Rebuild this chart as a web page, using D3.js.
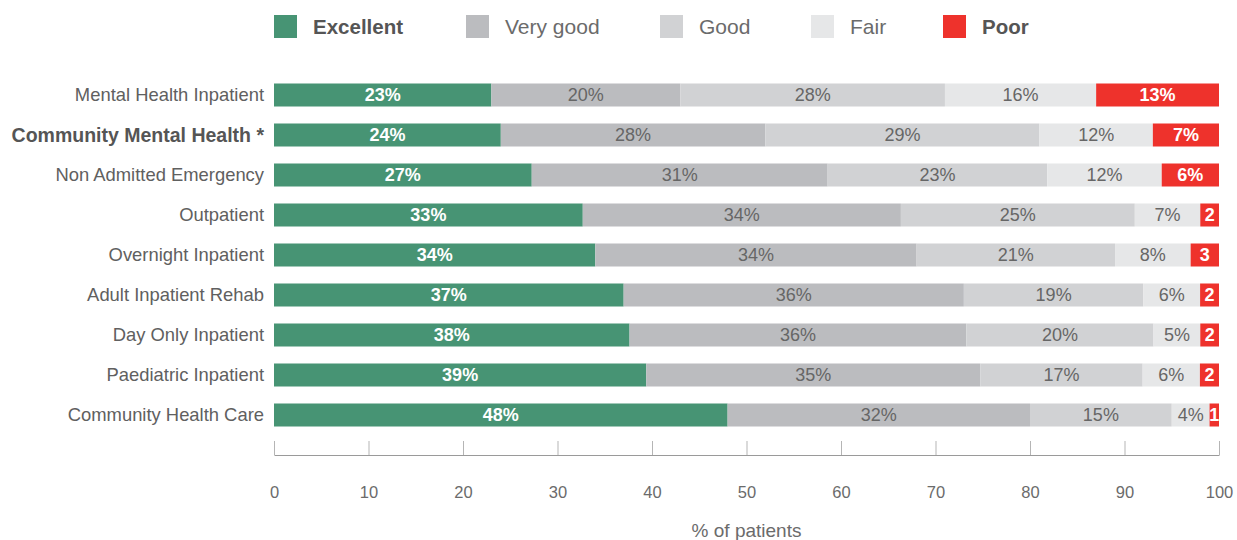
<!DOCTYPE html>
<html>
<head>
<meta charset="utf-8">
<script src="https://cdn.jsdelivr.net/npm/d3@7"></script>
<style>
  html, body { margin: 0; padding: 0; background: #ffffff; }
  svg { display: block; font-family: "Liberation Sans", Arial, sans-serif; }
</style>
</head>
<body>
<svg id="chart" width="1237" height="540"></svg>
<script>
// Patient ratings of overall care, % of patients per setting
const categories = [
  "Mental Health Inpatient",
  "Community Mental Health *",
  "Non Admitted Emergency",
  "Outpatient",
  "Overnight Inpatient",
  "Adult Inpatient Rehab",
  "Day Only Inpatient",
  "Paediatric Inpatient",
  "Community Health Care"
];
const highlighted = ["Community Mental Health *"];

const ratings = ["Excellent", "Very good", "Good", "Fair", "Poor"];
const excellent = [23, 24, 27, 33, 34, 37, 38, 39, 48];
const veryGood  = [20, 28, 31, 34, 34, 36, 36, 35, 32];
const good      = [28, 29, 23, 25, 21, 19, 20, 17, 15];
const fair      = [16, 12, 12,  7,  8,  6,  5,  6,  4];
const poor      = [13,  7,  6,  2,  3,  2,  2,  2,  1];
const xTicks = [0, 10, 20, 30, 40, 50, 60, 70, 80, 90, 100];
const axisTitle = "% of patients";

const colors = ["#479474", "#bbbcbf", "#d1d2d4", "#e6e7e8", "#ee322c"];
const labelColors = ["#ffffff", "#666666", "#666666", "#666666", "#ffffff"];
// short labels (no % sign) where the segment is narrow
const pctSuffix = [
  [true, true, true, true, true],
  [true, true, true, true, true],
  [true, true, true, true, true],
  [true, true, true, true, false],
  [true, true, true, true, false],
  [true, true, true, true, false],
  [true, true, true, true, false],
  [true, true, true, true, false],
  [true, true, true, true, false]
];

const series = [excellent, veryGood, good, fair, poor];

// rows: each bar is scaled to 100% of its own total
const rows = categories.map((c, i) => {
  const vals = series.map(s => s[i]);
  const total = d3.sum(vals);
  let acc = 0;
  const segs = vals.map((v, k) => {
    const x0 = acc / total * 100;
    acc += v;
    const x1 = acc / total * 100;
    return { cat: c, rating: ratings[k], k, value: v, x0, x1, suffix: pctSuffix[i][k] };
  });
  return { cat: c, segs };
});

const svg = d3.select("#chart");

const x = d3.scaleLinear().domain([0, 100]).range([274, 1219]);
const y = d3.scaleBand().domain(categories).range([75, 435])
  .paddingInner(0.425).paddingOuter(0.2125);

// legend
const legendX = [274, 466, 660, 811, 943];
const legend = svg.append("g").attr("class", "legend");
ratings.forEach((r, k) => {
  const bold = (k === 0 || k === 4);
  const g = legend.append("g").attr("transform", `translate(${legendX[k]},15)`);
  g.append("rect").attr("width", 23).attr("height", 23).attr("fill", colors[k]);
  g.append("text")
    .attr("x", 39).attr("y", 19)
    .attr("font-size", bold ? 20.5 : 21)
    .attr("font-weight", bold ? "bold" : "normal")
    .attr("fill", bold ? "#555555" : "#6b6b6b")
    .text(r);
});

// category labels
svg.append("g").selectAll("text")
  .data(categories)
  .join("text")
  .attr("x", 264)
  .attr("y", d => y(d) + y.bandwidth() / 2)
  .attr("dy", "0.35em")
  .attr("text-anchor", "end")
  .attr("font-size", d => highlighted.includes(d) ? 19.5 : 18.4)
  .attr("font-weight", d => highlighted.includes(d) ? "bold" : "normal")
  .attr("fill", d => highlighted.includes(d) ? "#555555" : "#606060")
  .text(d => d);

// bars
const rowG = svg.append("g").selectAll("g")
  .data(rows)
  .join("g")
  .attr("transform", d => `translate(0,${y(d.cat)})`);

rowG.selectAll("rect")
  .data(d => d.segs)
  .join("rect")
  .attr("x", d => x(d.x0))
  .attr("width", d => x(d.x1) - x(d.x0))
  .attr("y", 0)
  .attr("height", y.bandwidth())
  .attr("fill", d => colors[d.k]);

rowG.selectAll("text")
  .data(d => d.segs)
  .join("text")
  .attr("x", d => (x(d.x0) + x(d.x1)) / 2)
  .attr("y", y.bandwidth() / 2)
  .attr("dy", "0.36em")
  .attr("text-anchor", "middle")
  .attr("font-size", 18)
  .attr("font-weight", d => (d.k === 0 || d.k === 4) ? "bold" : "normal")
  .attr("fill", d => labelColors[d.k])
  .text(d => d.suffix ? d.value + "%" : d.value);

// x axis with upward ticks
const axis = d3.axisBottom(x)
  .tickValues(xTicks)
  .tickSizeInner(-14)
  .tickSizeOuter(0)
  .tickPadding(31);

const axG = svg.append("g")
  .attr("transform", "translate(0,455)")
  .call(axis);
axG.select(".domain").attr("stroke", "#9a9a9a").attr("stroke-width", 1.2);
axG.selectAll(".tick line").attr("stroke", "#b5b5b5");
axG.selectAll(".tick text")
  .attr("font-size", 16.5)
  .attr("font-family", "Liberation Sans, Arial, sans-serif")
  .attr("fill", "#6b6b6b");

svg.append("text")
  .attr("x", (x(0) + x(100)) / 2)
  .attr("y", 537)
  .attr("text-anchor", "middle")
  .attr("font-size", 19)
  .attr("fill", "#6b6b6b")
  .text(axisTitle);
</script>
</body>
</html>
